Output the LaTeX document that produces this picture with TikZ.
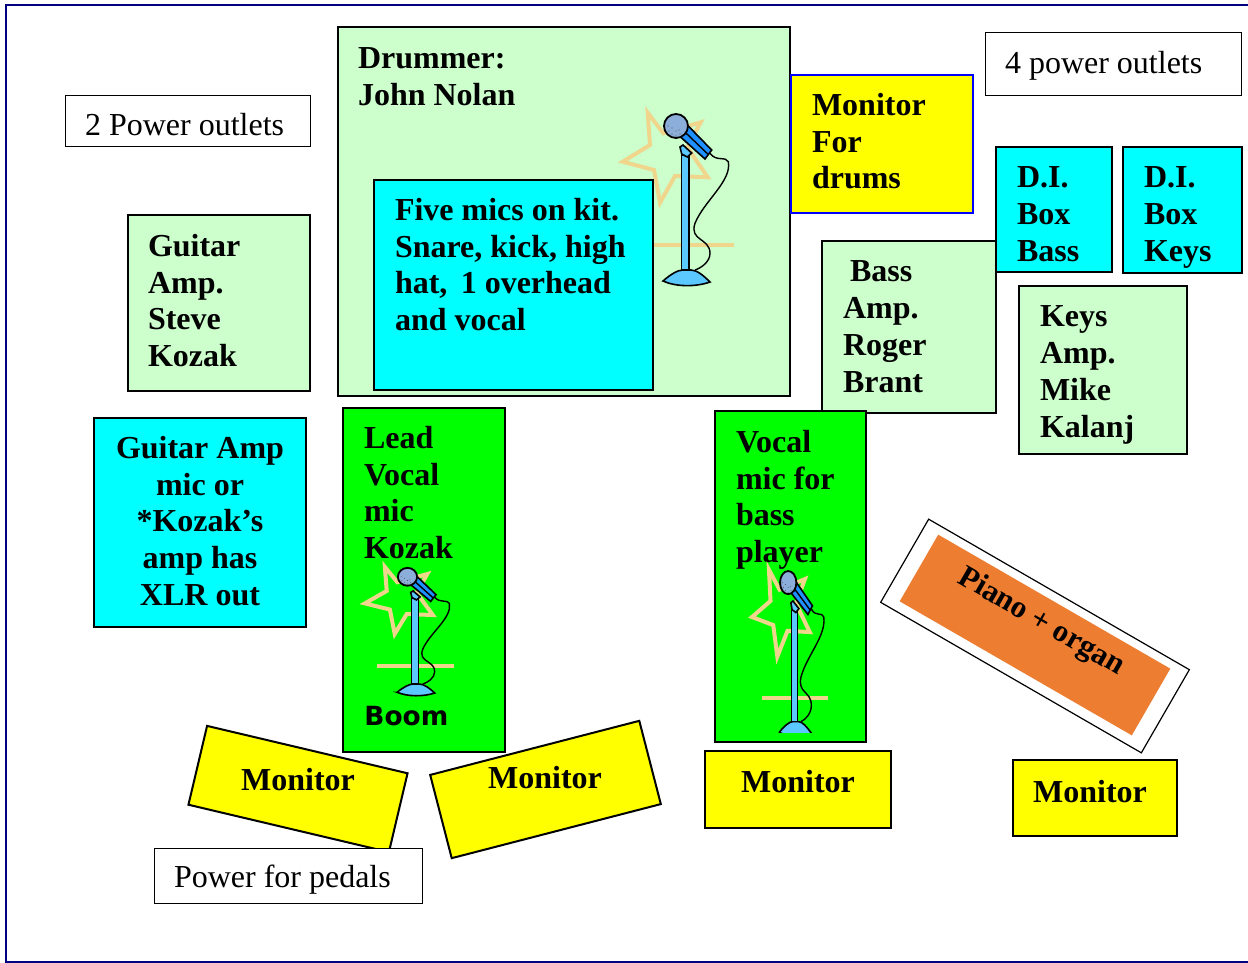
\documentclass[tikz,border=0pt]{standalone}
\usepackage{fontspec}
\setmainfont{Liberation Serif}
\newfontfamily\boomfont{DejaVu Sans}
\usetikzlibrary{positioning}

\definecolor{padgreen}{HTML}{CCFFCC}
\definecolor{micgreen}{HTML}{00FF00}
\definecolor{dicyan}{HTML}{00FFFF}
\definecolor{monyellow}{HTML}{FFFF00}
\definecolor{keysorange}{HTML}{ED7D31}
\definecolor{framenavy}{HTML}{000080}
\definecolor{monblue}{HTML}{0000FF}
\definecolor{starsand}{HTML}{F0D68C}
\definecolor{standblue}{HTML}{5BC8FF}
\definecolor{headblue}{HTML}{8BAEDB}
\definecolor{gripblue}{HTML}{1E90FF}

\tikzset{
    cell/.style={
        draw=black,
        line width=1pt,
        anchor=north west,
        inner sep=0pt,
        outer sep=0pt
    },
    padcell/.style={cell, fill=padgreen},
    diccell/.style={cell, fill=dicyan},
    miccell/.style={cell, fill=micgreen},
    moncell/.style={cell, fill=monyellow},
    powercell/.style={cell, fill=white, line width=0.5pt},
    tag/.style={
        font=\fontsize{16}{18.4}\selectfont\bfseries,
        align=left,
        inner sep=0pt,
        outer sep=0pt
    },
    plaintag/.style={tag, font=\fontsize{16}{18.4}\selectfont},
    pics/micstand/.style={code={
        % star and floor line
        \draw[starsand, line width=2pt, line join=miter]
            (-38.3,-173.3) -- (-22.7,-152.7) -- (14.7,-163.7) -- (1.3,-138.7) -- (21.7,-108.7)
            -- (-11,-110) -- (-26,-83.3) -- (-32,-116) -- (-63.3,-124.3) -- (-36,-141) -- cycle;
        \draw[starsand, line width=2pt] (-48,-40.7) -- (48,-40.7);
        % cable
        \draw[black, line width=0.7pt]
            (24,-132.7) .. controls (30,-124) and (40,-130) .. (42.3,-124.3)
            .. controls (46,-105) and (18,-85) .. (9,-62.7)
            .. controls (3,-45) and (24,-48) .. (24,-32.7)
            .. controls (24,-24) and (15,-18) .. (9,-16);
        % base and pole
        \draw[black, fill=standblue, line width=0.8pt]
            (-23,-5) .. controls (-15,-12) and (-8,-16) .. (-3,-16) -- (5,-16)
            .. controls (11,-16) and (18,-10) .. (24,-4)
            .. controls (10,1) and (-10,1) .. cycle;
        \draw[black, fill=standblue, line width=0.7pt]
            (-0.7-#1,-131) -- (-0.7+#1,-131) -- (-0.7+#1,-16) -- (-0.7-#1,-16) -- cycle;
        \draw[black, fill=standblue, line width=0.8pt]
            (-6,-139) -- (-3,-141) -- (5.7,-133) -- (1.3,-129) -- (-4.3,-132) -- cycle;
        % grip and head
        \draw[black, fill=gripblue, line width=0.8pt]
            (1.3,-161) -- (25.7,-136) -- (19,-127) -- (-7.7,-151) -- cycle;
        \draw[black, line width=0.7pt] (-3.2,-156) -- (22.3,-131.5);
        \draw[black, fill=headblue, line width=0.9pt] (-10,-160) circle (12);
        \foreach \dotx/\doty in {-17/-155, -14/-152, -14/-158, -10/-150, -10/-155, -6/-152, -7/-156, -18/-160}
            \fill[black!65] (\dotx,\doty) circle (0.7);
    }}
}

\begin{document}
\begin{tikzpicture}[x=0.5pt, y=-0.5pt]
    \useasboundingbox (0,0) rectangle (1248,963);
    \coordinate (frametl) at (6,5);
    \coordinate (frametr) at (1248,5);
    \coordinate (framebl) at (6,962);
    \coordinate (framebr) at (1248,962);
    \draw[framenavy, line width=0.8pt] (frametr) -- (frametl) -- (framebl) -- (framebr);

    % drum riser
    \node[padcell, minimum width=226pt, minimum height=184.5pt] (drummer) at (338,27) {};
    \node[tag, below right=10.5pt and 10pt of drummer.north west] (drummertag) {Drummer:\\John Nolan};
    \pic at (686,286) {micstand={3.8}};
    \node[diccell, minimum width=139.5pt, minimum height=105pt] (kit) at (374,180) {};
    \node[tag, below right=9pt and 10.5pt of kit.north west] (kittag) {Five mics on kit.\\Snare, kick, high\\hat,\, 1 overhead\\and vocal};
    \node[moncell, draw=monblue, minimum width=91pt, minimum height=69pt] (mondrums) at (791,75) {};
    \node[tag, below right=9pt and 10.5pt of mondrums.north west] (mondrumstag) {Monitor\\For\\drums};

    % power outlets
    \node[powercell, minimum width=128pt, minimum height=31.5pt] (outletsright) at (985,33) {};
    \node[plaintag, below right=9pt and 10pt of outletsright.north west] (outletsrighttag) {4 power outlets};
    \node[powercell, minimum width=122.5pt, minimum height=25.5pt] (outletsleft) at (65,96) {};
    \node[plaintag, below right=8.5pt and 10pt of outletsleft.north west] (outletslefttag) {2 Power outlets};

    % guitar side
    \node[padcell, minimum width=91pt, minimum height=88pt] (guitaramp) at (128,215) {};
    \node[tag, below right=9.5pt and 10pt of guitaramp.north west] (guitaramptag) {Guitar\\Amp.\\Steve\\Kozak};
    \node[diccell, minimum width=106pt, minimum height=104.5pt] (guitarmic) at (94,418) {};
    \node[tag, align=center, below=9pt of guitarmic.north] (guitarmictag) {Guitar Amp\\mic or\\*Kozak’s\\amp has\\XLR out};

    % lead vocal
    \node[miccell, minimum width=81pt, minimum height=172pt] (lead) at (343,408) {};
    \node[tag, below right=9pt and 10.5pt of lead.north west] (leadtag) {Lead\\Vocal\\mic\\Kozak};
    \pic[xscale=0.8, yscale=0.745] at (415.5,696) {micstand={4.1}};
    \node[inner sep=0pt, anchor=west, font=\boomfont\bfseries\fontsize{13.2}{16}\selectfont] (boom) at (364,716) {Boom};

    % bass side
    \node[padcell, minimum width=87pt, minimum height=86pt] (bassamp) at (822,241) {};
    \node[tag, below right=10pt and 10.5pt of bassamp.north west] (bassamptag) {\hspace{3.5pt}Bass\\Amp.\\Roger\\Brant};
    \node[miccell, minimum width=75.5pt, minimum height=165.5pt] (bassvocal) at (715,411) {};
    \node[tag, below right=9.5pt and 10.5pt of bassvocal.north west] (bassvocaltag) {Vocal\\mic for\\bass\\player};
    \begin{scope}
        \clip (720,560) rectangle (860,732);
        \pic[xscale=0.68, yscale=0.965] at (795,737) {micstand={4.4}};
    \end{scope}

    % keys side
    \node[diccell, minimum width=58pt, minimum height=62.5pt] (dibass) at (996,147) {};
    \node[tag, below right=10pt and 10.5pt of dibass.north west] (dibasstag) {D.I.\\Box\\Bass};
    \node[diccell, minimum width=59.5pt, minimum height=63pt] (dikeys) at (1123,147) {};
    \node[tag, below right=10pt and 10.5pt of dikeys.north west] (dikeystag) {D.I.\\Box\\Keys};
    \node[padcell, minimum width=84pt, minimum height=84pt] (keysamp) at (1019,286) {};
    \node[tag, below right=10pt and 10.5pt of keysamp.north west] (keysamptag) {Keys\\Amp.\\Mike\\Kalanj};

    % piano
    \node[draw=black, fill=white, line width=0.6pt, rotate=-30, minimum width=150.5pt, minimum height=48pt, inner sep=0pt] (piano) at (1035,636) {};
    \node[fill=keysorange, rotate=-30, minimum width=134pt, minimum height=38.5pt, inner sep=0pt] (organ) at (1035,635) {};
    \node[tag, rotate=-30, font=\fontsize{15.5}{18}\selectfont\bfseries] (pianotag) at (1041,622.5) {Piano + organ};

    % monitors
    \node[moncell, anchor=center, rotate=-13.3, minimum width=103pt, minimum height=40.5pt] (monleft) at (298,789) {};
    \node[tag] (monlefttag) at (298,780) {Monitor};
    \node[moncell, anchor=center, rotate=14.5, minimum width=108pt, minimum height=43pt] (monright) at (545.5,789.5) {};
    \node[tag] (monrighttag) at (545,778) {Monitor};
    \node[moncell, minimum width=93pt, minimum height=38.5pt] (monbass) at (705,751) {};
    \node[tag] (monbasstag) at (798,782) {Monitor};
    \node[moncell, minimum width=82pt, minimum height=38pt] (monkeys) at (1013,760) {};
    \node[tag] (monkeystag) at (1090,792) {Monitor};

    \node[powercell, minimum width=134pt, minimum height=27.5pt] (pedals) at (154,848) {};
    \node[plaintag, below right=8.5pt and 10pt of pedals.north west] (pedalstag) {Power for pedals};
\end{tikzpicture}
\end{document}
